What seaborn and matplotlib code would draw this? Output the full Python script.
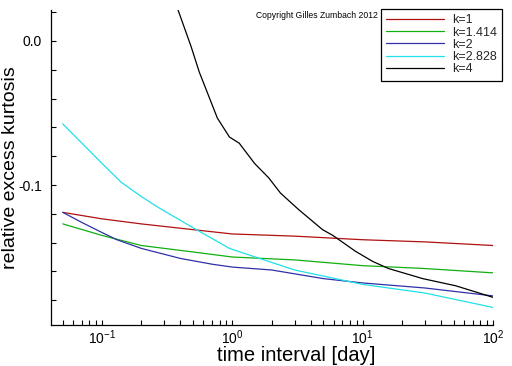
import matplotlib
matplotlib.use("Agg")
import matplotlib.pyplot as plt
import matplotlib.ticker as mticker
import numpy as np
import pandas as pd
import seaborn as sns

# ---- data ----
labels = ["k=1", "k=1.414", "k=2", "k=2.828", "k=4"]
colors = ["#b01010", "#10b010", "#3030a8", "#20e0e8", "#000000"]

x_k1 = [0.05, 0.1, 0.2, 0.5, 1, 3, 10, 30, 100]
y_k1 = [-0.119, -0.1235, -0.127, -0.131, -0.134, -0.1355, -0.138, -0.1395, -0.142]

x_k1414 = [0.05, 0.1, 0.2, 0.3, 0.5, 1, 3, 10, 30, 100]
y_k1414 = [-0.127, -0.135, -0.142, -0.144, -0.1465, -0.150, -0.152, -0.156, -0.158, -0.161]

x_k2 = [0.05, 0.07, 0.1, 0.13, 0.2, 0.4, 0.7, 1, 2, 5, 10, 30, 100]
y_k2 = [-0.119, -0.126, -0.133, -0.138, -0.144, -0.151, -0.155, -0.157, -0.159, -0.165, -0.168, -0.1715, -0.177]

x_k2828 = [0.05, 0.1, 0.14, 0.2, 0.275, 0.53, 0.95, 1.5, 3, 10, 30, 100]
y_k2828 = [-0.0576, -0.085, -0.098, -0.108, -0.116, -0.131, -0.144, -0.150, -0.159, -0.169, -0.175, -0.185]

x_k4 = [0.378, 0.483, 0.557, 0.767, 0.95, 1.13, 1.48, 1.9, 2.34, 3.22, 4.92, 5.9, 8.8, 11.9, 15.8, 28.9, 51.9, 100]
y_k4 = [0.023, -0.004, -0.0215, -0.0535, -0.0667, -0.071, -0.085, -0.095, -0.1056, -0.117, -0.131, -0.135, -0.146, -0.153, -0.158, -0.165, -0.170, -0.178]

xs = [x_k1, x_k1414, x_k2, x_k2828, x_k4]
ys = [y_k1, y_k1414, y_k2, y_k2828, y_k4]

frames = []
for lab, xv, yv in zip(labels, xs, ys):
    frames.append(pd.DataFrame({"x": xv, "y": yv, "k": lab}))
df = pd.concat(frames, ignore_index=True)

# ---- style ----
sns.set_theme(style="white")
plt.rcParams["font.family"] = ["Liberation Sans", "DejaVu Sans"]
plt.rcParams["mathtext.fontset"] = "custom"
plt.rcParams["mathtext.rm"] = "Liberation Sans"
plt.rcParams["mathtext.it"] = "Liberation Sans"
plt.rcParams["mathtext.default"] = "regular"
plt.rcParams["axes.unicode_minus"] = False
plt.rcParams["xtick.bottom"] = True
plt.rcParams["ytick.left"] = True

fig = plt.figure(figsize=(5.12, 3.66), dpi=100)
ax = fig.add_axes([51 / 512, (366 - 325) / 366, 442 / 512, 315 / 366])

sns.lineplot(data=df, x="x", y="y", hue="k", hue_order=labels,
             palette=dict(zip(labels, colors)), linewidth=0.9,
             sort=False, estimator=None, ax=ax, legend=True)

ax.set_xscale("log")
ax.set_xlim(0.0406, 100)
ax.set_ylim(-0.1972, 0.0215)

ax.yaxis.set_major_locator(mticker.MultipleLocator(0.1))
ax.yaxis.set_minor_locator(mticker.MultipleLocator(0.02))
ax.yaxis.set_major_formatter(mticker.FormatStrFormatter("%.1f"))
ax.xaxis.set_major_locator(mticker.LogLocator(base=10))
ax.xaxis.set_minor_locator(mticker.LogLocator(base=10, subs=np.arange(2, 10)))
ax.xaxis.set_minor_formatter(mticker.NullFormatter())

ax.tick_params(axis="both", which="both", direction="in", length=3.5,
               width=0.8, color="black", labelsize=10, labelcolor="black")
ax.tick_params(axis="x", which="major", pad=2.5)
ax.tick_params(axis="y", which="major", pad=6.5)

for s in ["top", "right"]:
    ax.spines[s].set_visible(False)
for s in ["left", "bottom"]:
    ax.spines[s].set_color("black")
    ax.spines[s].set_linewidth(0.9)

ax.set_xlabel("time interval [day]", fontsize=14.5, color="black")
ax.set_ylabel("relative excess kurtosis", fontsize=14, color="black")
ax.xaxis.set_label_coords(0.555, -0.066)
ax.yaxis.set_label_coords(-0.073, 0.50)

leg = ax.legend(loc="upper left", bbox_to_anchor=(381 / 512, 1 - 9 / 366),
                bbox_transform=fig.transFigure, frameon=True, fancybox=False,
                fontsize=9, handlelength=4.6, handletextpad=0.65,
                labelspacing=0.02, borderpad=0.42, borderaxespad=0)
leg.get_frame().set_edgecolor("black")
leg.get_frame().set_linewidth(0.9)
leg.get_frame().set_alpha(1)

fig.text(256 / 512, 1 - 15 / 366, "Copyright Gilles Zumbach 2012",
         fontsize=6.2, va="center", ha="left", color="black")

fig.savefig("out.png", dpi=100)
